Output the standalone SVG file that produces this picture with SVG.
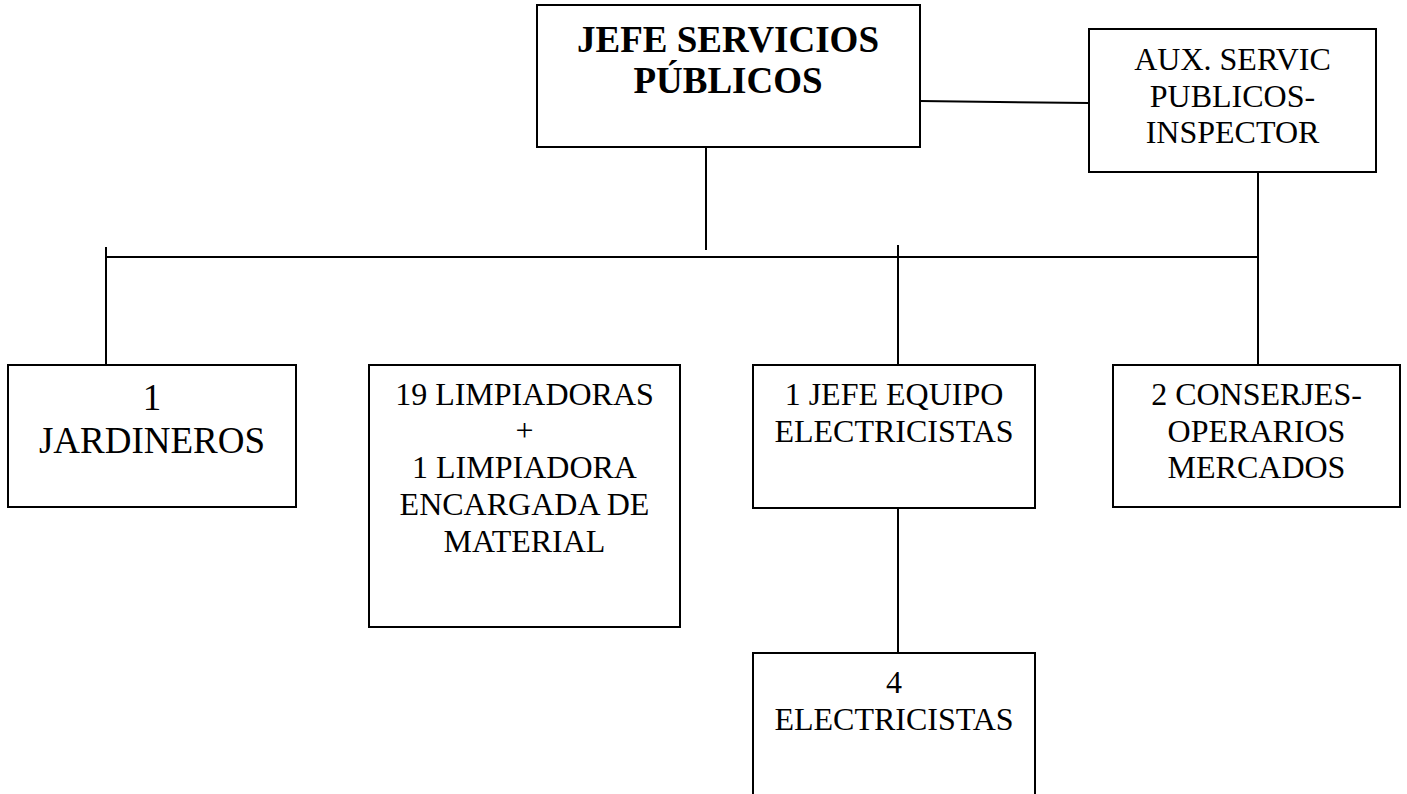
<svg xmlns="http://www.w3.org/2000/svg" width="1407" height="794" viewBox="0 0 1407 794">
<style>
.box{fill:#fff;stroke:#000;stroke-width:2}
.ln{stroke:#000;stroke-width:2;fill:none}
text{font-family:"Liberation Serif","Times New Roman",serif;fill:#000;text-anchor:middle}
.t32{font-size:32px}
.t36{font-size:37px}
.hd{font-size:37px;font-weight:bold}
</style>
<rect width="1407" height="794" fill="#fff"/>
<g id="connectors">
<line class="ln" x1="920" y1="101" x2="1089" y2="103"/>
<line class="ln" x1="706" y1="147" x2="706" y2="250"/>
<line class="ln" x1="106" y1="257" x2="1258" y2="257"/>
<line class="ln" x1="106" y1="247" x2="106" y2="366"/>
<line class="ln" x1="898" y1="245" x2="898" y2="366"/>
<line class="ln" x1="1258" y1="172" x2="1258" y2="366"/>
<line class="ln" x1="898" y1="508" x2="898" y2="654"/>
</g>
<g id="jefe">
<rect class="box" x="537" y="5" width="383" height="142"/>
<text class="hd" x="728" y="52">JEFE SERVICIOS</text>
<text class="hd" x="728" y="93">PÚBLICOS</text>
</g>
<g id="aux">
<rect class="box" x="1089" y="29" width="287" height="143"/>
<text class="t32" x="1232.5" y="70">AUX. SERVIC</text>
<text class="t32" x="1232.5" y="107">PUBLICOS-</text>
<text class="t32" x="1232.5" y="143">INSPECTOR</text>
</g>
<g id="jardineros">
<rect class="box" x="8" y="365" width="288" height="142"/>
<text class="t36" x="152" y="410">1</text>
<text class="t36" x="152" y="453">JARDINEROS</text>
</g>
<g id="limpiadoras">
<rect class="box" x="369" y="365" width="311" height="262"/>
<text class="t32" x="524.5" y="405">19 LIMPIADORAS</text>
<text class="t32" x="524.5" y="441">+</text>
<text class="t32" x="524.5" y="478">1 LIMPIADORA</text>
<text class="t32" x="524.5" y="515">ENCARGADA DE</text>
<text class="t32" x="524.5" y="552">MATERIAL</text>
</g>
<g id="jefe-equipo">
<rect class="box" x="753" y="365" width="282" height="143"/>
<text class="t32" x="894" y="405">1 JEFE EQUIPO</text>
<text class="t32" x="894" y="442">ELECTRICISTAS</text>
</g>
<g id="conserjes">
<rect class="box" x="1113" y="365" width="287" height="142"/>
<text class="t32" x="1256.5" y="405">2 CONSERJES-</text>
<text class="t32" x="1256.5" y="442">OPERARIOS</text>
<text class="t32" x="1256.5" y="478">MERCADOS</text>
</g>
<g id="electricistas">
<rect class="box" x="753" y="653" width="282" height="160"/>
<text class="t32" x="894" y="693">4</text>
<text class="t32" x="894" y="730">ELECTRICISTAS</text>
</g>
</svg>
